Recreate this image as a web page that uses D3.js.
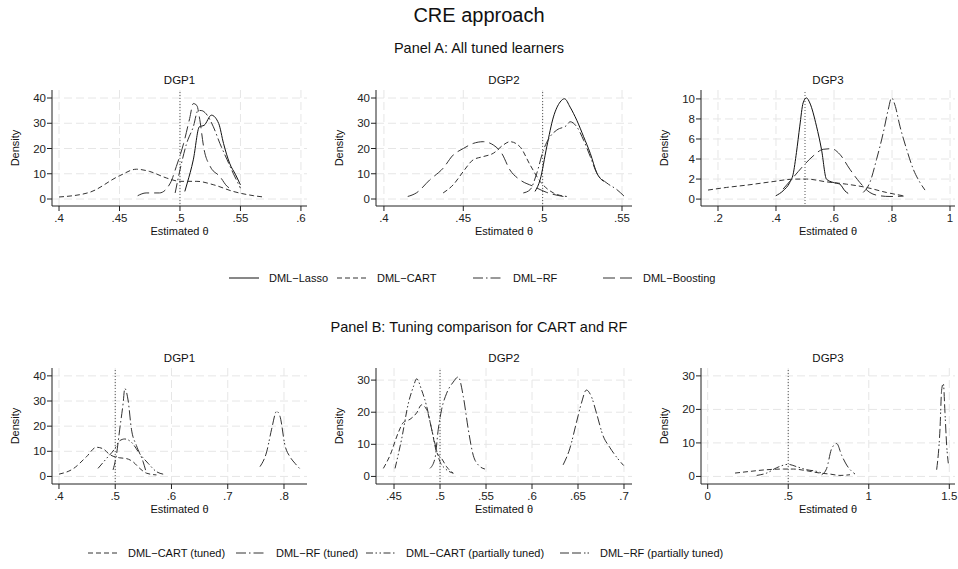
<!DOCTYPE html>
<html lang="en">
<head>
<meta charset="UTF-8">
<title>CRE approach</title>
<script src="https://d3js.org/d3.v7.min.js"></script>
<style>
  body { margin: 0; background: #fff; }
  svg { font-family: "Liberation Sans", Arial, sans-serif; }
</style>
</head>
<body>
<div id="chart"></div>
<script>
// ---- panel A : all tuned learners ----
// DGP1
const a1Lasso = [[.504,3],[.506,6.3],[.511,15.5],[.516,28.6],[.520,29.2],[.526,33.2],[.532,29.9],[.536,22],[.541,14.2],[.546,9.6],[.550,5.6]];
const a1Cart = [[.400,.8],[.425,2.6],[.450,9.2],[.464,11.8],[.475,10.9],[.489,8.3],[.500,7],[.514,7],[.528,5.6],[.544,3],[.561,1.3],[.569,.8]];
const a1Rf = [[.496,2.4],[.500,11.5],[.5055,22],[.511,28.6],[.515,35.1],[.518,35],[.5215,33.8],[.5276,28.6],[.533,22],[.539,15.5],[.544,10.2],[.550,4.3]];
const a1Boost = [[.465,1.3],[.472,2.4],[.483,2.4],[.492,6.3],[.497,12.9],[.503,22],[.508,31.9],[.511,37.8],[.514,37],[.516,32.5],[.520,19.4],[.525,12.9],[.533,8.9],[.539,5],[.544,3.7]];
// DGP2
const a2Lasso = [[.4952,3],[.4984,7.6],[.5026,20.7],[.5068,32.5],[.511,38.4],[.5138,39.7],[.5173,36.4],[.5215,31.2],[.5258,24.7],[.530,18.1],[.5342,10.2],[.5384,7]];
const a2Cart = [[.4373,2.4],[.4436,5.6],[.450,10.9],[.4562,15.5],[.4626,16.8],[.4689,18.1],[.4752,21.4],[.4794,22.7],[.4857,20.7],[.4921,13.5],[.4984,7],[.5068,2.4],[.5152,1]];
const a2Rf = [[.4878,2.4],[.4921,3.7],[.4963,10.2],[.5005,19.4],[.5047,24.7],[.5089,27.3],[.5152,29.2],[.5173,30.6],[.5215,28.6],[.5258,23.3],[.530,16.8],[.5342,10.2],[.5405,6.3],[.5468,3.7],[.5515,1]];
const a2Boost = [[.415,1],[.4204,2.4],[.4289,7.6],[.4373,12.2],[.4436,17.4],[.450,20],[.4562,22],[.4626,22.7],[.4689,21.4],[.4742,18.1],[.4794,11.5],[.4857,7.6],[.4942,5],[.5026,2.6],[.5131,1]];
// DGP3
const a3Lasso = [[.399,.33],[.4245,.83],[.4475,1.66],[.459,2.48],[.4705,4.64],[.482,7.28],[.4935,9.6],[.505,10.1],[.5166,9.6],[.5396,7.28],[.5568,4.97],[.574,1.99],[.5971,1.66],[.6201,1.49],[.6374,.83],[.6489,.56]];
const a3Cart = [[.1655,.9],[.2288,1.16],[.2978,1.39],[.390,1.75],[.459,1.99],[.505,2.0],[.574,1.72],[.643,1.49],[.712,1.16],[.781,.66],[.839,.33]];
const a3Rf = [[.7007,.66],[.7237,1.66],[.7468,3.97],[.7698,6.62],[.787,8.94],[.7986,10.1],[.810,9.4],[.8273,7.28],[.8504,4.97],[.8734,2.98],[.8964,1.66],[.9137,.9]];
const a3Boost = [[.4245,1.0],[.459,2.15],[.4935,3.3],[.528,4.3],[.5626,4.97],[.5914,5.03],[.620,4.47],[.6547,2.98],[.689,1.66],[.7237,.66],[.7583,.33],[.793,.26],[.840,.3]];

// ---- panel B : tuning comparison ----
// DGP1
const b1CartTuned = [[.400,.9],[.4249,3],[.4487,7.8],[.4665,11.6],[.4783,11],[.4902,8.7],[.508,7.4],[.5199,7.1],[.5317,5.8],[.5436,3.2],[.5555,1.3],[.5733,.6]];
const b1RfTuned = [[.4961,2.6],[.502,8.4],[.508,18.8],[.514,29],[.517,35],[.5228,30.4],[.5288,18.8],[.5377,12.3],[.5496,5.8],[.5555,1.3]];
const b1CartPartial = [[.4694,3.2],[.4843,7.1],[.4991,11],[.508,14.2],[.5169,14.9],[.5288,13.6],[.5436,9],[.5585,5.2],[.5733,1.9],[.5852,.9]];
const b1RfPartial = [[.7573,3.9],[.7691,9.7],[.778,18.8],[.7869,25.9],[.7929,23.9],[.8018,12.3],[.8107,7.8],[.8196,5.2],[.8285,3]];
// DGP2
const b2CartTuned = [[.4384,2.5],[.4457,6.6],[.4547,13.7],[.4601,16.8],[.4674,17.8],[.4746,19.8],[.480,22.3],[.4855,20.8],[.4909,14.7],[.4963,7.6],[.5017,5.6],[.5072,3],[.5144,1]];
const b2RfTuned = [[.4891,2.5],[.4945,5.6],[.4981,14.7],[.5017,20.8],[.5072,25.9],[.5144,29.4],[.5198,31],[.5253,24.9],[.5307,14.7],[.5361,6.6],[.5415,3.6],[.5488,2.3]];
const b2CartPartial = [[.4511,2.5],[.4583,11.7],[.4656,22.8],[.471,27.9],[.4746,30.4],[.480,26.9],[.4855,21.8],[.4909,14.7],[.4963,8.1],[.4999,4.6],[.5054,2.5],[.5144,1]];
const b2RfPartial = [[.6338,3.6],[.641,8.6],[.6483,16.8],[.6537,22.8],[.6591,26.9],[.6645,24.9],[.670,19.8],[.6772,12.7],[.6844,9.1],[.6917,6.1],[.6996,3.4]];
// DGP3
const b3CartTuned = [[.1697,1],[.2628,1.5],[.3662,2],[.4697,2.2],[.5318,2.2],[.6145,1.7],[.6973,1],[.7594,.7],[.8214,.3],[.8835,.5]];
const b3RfTuned = [[.7077,.5],[.7387,2.4],[.7697,8.3],[.8007,9.8],[.8318,6.3],[.8628,3.4],[.9146,.7]];
const b3CartPartial = [[.3042,.3],[.3662,1],[.4283,2.6],[.5007,3.6],[.5525,2.9],[.6145,2],[.6766,1.5],[.7077,1]];
const b3RfPartial = [[1.4215,2],[1.4422,14.1],[1.4525,25.8],[1.4629,27.8],[1.4732,19],[1.4836,9.3],[1.4939,3.9]];

// tick values
const ticksA1x = [.4, .45, .5, .55, .6], ticksA1y = [0, 10, 20, 30, 40];
const ticksA2x = [.4, .45, .5, .55], ticksA2y = [0, 10, 20, 30, 40];
const ticksA3x = [.2, .4, .6, .8, 1], ticksA3y = [0, 2, 4, 6, 8, 10];
const ticksB1x = [.4, .5, .6, .7, .8], ticksB1y = [0, 10, 20, 30, 40];
const ticksB2x = [.45, .5, .55, .6, .65, .7], ticksB2y = [0, 10, 20, 30];
const ticksB3x = [0, .5, 1, 1.5], ticksB3y = [0, 10, 20, 30];

const legendA = ['DML\u2212Lasso', 'DML\u2212CART', 'DML\u2212RF', 'DML\u2212Boosting'];
const legendB = ['DML\u2212CART (tuned)', 'DML\u2212RF (tuned)', 'DML\u2212CART (partially tuned)', 'DML\u2212RF  (partially tuned)'];

// line patterns
const dashA = [null, '5,3', '10,3,1.5,3', '12,5'];
const dashB = ['5,3', '10,3,1.5,3', '7,2.5,1.5,2.5,1.5,2.5', '9,3,9,3,1.5,2,1.5,3'];

const W = 958, H = 569;
const svg = d3.select('#chart').append('svg')
    .attr('width', W)
    .attr('height', H);

svg.append('rect').attr('width', W).attr('height', H).attr('fill', '#fff');

// titles
svg.append('text').attr('x', 479).attr('y', 22).attr('text-anchor', 'middle')
    .attr('font-size', '20px').attr('fill', '#111').text('CRE approach');
svg.append('text').attr('x', 479).attr('y', 53).attr('text-anchor', 'middle')
    .attr('font-size', '14.5px').attr('fill', '#111').text('Panel A: All tuned learners');
svg.append('text').attr('x', 479).attr('y', 332).attr('text-anchor', 'middle')
    .attr('font-size', '14.5px').attr('fill', '#111').text('Panel B: Tuning comparison for CART and RF');

const fmt = d => String(d).replace(/^0\./, '.');
const cols = [[52, 307], [376, 632], [701, 955]];

function drawPanel(p) {
    const g = svg.append('g');
    const [left, right] = cols[p.col];
    const top = p.top, bottom = p.top + 116;
    const x = d3.scaleLinear().domain(p.xDomain).range([left, right]);
    const y = d3.scaleLinear().domain(p.yDomain).range([bottom, top]);

    // grid
    g.selectAll('.hg').data(p.yTicks).enter().append('line')
        .attr('x1', left).attr('x2', right)
        .attr('y1', d => y(d)).attr('y2', d => y(d))
        .attr('stroke', '#e6e6e6').attr('stroke-dasharray', '8,4');
    g.selectAll('.vg').data(p.xTicks).enter().append('line')
        .attr('x1', d => x(d)).attr('x2', d => x(d))
        .attr('y1', top).attr('y2', bottom)
        .attr('stroke', '#e6e6e6').attr('stroke-dasharray', '8,4');

    // reference line at true theta
    g.append('line')
        .attr('x1', x(0.5)).attr('x2', x(0.5))
        .attr('y1', top + 2).attr('y2', bottom)
        .attr('stroke', '#555').attr('stroke-dasharray', '1,2');

    // curves
    const line = d3.line().x(d => x(d[0])).y(d => y(d[1])).curve(d3.curveMonotoneX);
    p.series.forEach((s, i) => {
        g.append('path')
            .attr('d', line(s))
            .attr('fill', 'none')
            .attr('stroke', p.solid && i === 0 ? '#111' : '#333')
            .attr('stroke-width', 1)
            .attr('stroke-dasharray', p.dash[i]);
    });

    // axes
    g.append('line').attr('x1', left).attr('x2', left).attr('y1', top).attr('y2', bottom)
        .attr('stroke', '#222');
    g.append('line').attr('x1', left).attr('x2', right).attr('y1', bottom).attr('y2', bottom)
        .attr('stroke', '#222');
    g.selectAll('.yt').data(p.yTicks).enter().append('line')
        .attr('x1', left - 5).attr('x2', left)
        .attr('y1', d => y(d)).attr('y2', d => y(d)).attr('stroke', '#222');
    g.selectAll('.xt').data(p.xTicks).enter().append('line')
        .attr('x1', d => x(d)).attr('x2', d => x(d))
        .attr('y1', bottom).attr('y2', bottom + 5).attr('stroke', '#222');
    g.selectAll('.yl').data(p.yTicks).enter().append('text')
        .attr('x', left - 6).attr('y', d => y(d) + 4)
        .attr('text-anchor', 'end').attr('font-size', '11.5px').attr('fill', '#222')
        .text(d => d);
    g.selectAll('.xl').data(p.xTicks).enter().append('text')
        .attr('x', d => x(d)).attr('y', bottom + 16)
        .attr('text-anchor', 'middle').attr('font-size', '11.5px').attr('fill', '#222')
        .text(fmt);

    // labels
    g.append('text').attr('x', (left + right) / 2).attr('y', top - 6)
        .attr('text-anchor', 'middle').attr('font-size', '11.5px').attr('fill', '#111')
        .text(p.title);
    g.append('text').attr('x', (left + right) / 2).attr('y', bottom + 29)
        .attr('text-anchor', 'middle').attr('font-size', '11px').attr('fill', '#111')
        .text('Estimated \u03b8');
    g.append('text')
        .attr('transform', `translate(${left - 33},${(top + bottom) / 2}) rotate(-90)`)
        .attr('text-anchor', 'middle').attr('font-size', '11px').attr('fill', '#111')
        .text('Density');
}

drawPanel({ col: 0, top: 90, title: 'DGP1', xDomain: [0.3942, 0.605], yDomain: [-2.77, 43.17],
    xTicks: ticksA1x, yTicks: ticksA1y, series: [a1Lasso, a1Cart, a1Rf, a1Boost], dash: dashA, solid: true });
drawPanel({ col: 1, top: 90, title: 'DGP2', xDomain: [0.395, 0.5563], yDomain: [-2.77, 43.17],
    xTicks: ticksA2x, yTicks: ticksA2y, series: [a2Lasso, a2Cart, a2Rf, a2Boost], dash: dashA, solid: true });
drawPanel({ col: 2, top: 90, title: 'DGP3', xDomain: [0.1414, 1.0172], yDomain: [-0.69, 10.89],
    xTicks: ticksA3x, yTicks: ticksA3y, series: [a3Lasso, a3Cart, a3Rf, a3Boost], dash: dashA, solid: true });
drawPanel({ col: 0, top: 368, title: 'DGP1', xDomain: [0.3876, 0.8409], yDomain: [-3.01, 43.13],
    xTicks: ticksB1x, yTicks: ticksB1y, series: [b1CartTuned, b1RfTuned, b1CartPartial, b1RfPartial], dash: dashB });
drawPanel({ col: 1, top: 368, title: 'DGP2', xDomain: [0.4304, 0.7087], yDomain: [-2.36, 33.77],
    xTicks: ticksB2x, yTicks: ticksB2y, series: [b2CartTuned, b2RfTuned, b2CartPartial, b2RfPartial], dash: dashB });
drawPanel({ col: 2, top: 368, title: 'DGP3', xDomain: [-0.0416, 1.5354], yDomain: [-2.26, 32.35],
    xTicks: ticksB3x, yTicks: ticksB3y, series: [b3CartTuned, b3RfTuned, b3CartPartial, b3RfPartial], dash: dashB });

// legends
function drawLegend(labels, dashes, keyX, yPos, solidFirst) {
    labels.forEach((lab, i) => {
        svg.append('line')
            .attr('x1', keyX[i]).attr('x2', keyX[i] + 30)
            .attr('y1', yPos).attr('y2', yPos)
            .attr('stroke', solidFirst && i === 0 ? '#111' : '#333')
            .attr('stroke-dasharray', dashes[i]);
        svg.append('text')
            .attr('x', keyX[i] + 40).attr('y', yPos + 4)
            .attr('font-size', '11px').attr('fill', '#111')
            .text(lab);
    });
}
drawLegend(legendA, dashA, [229, 337, 473, 603], 278, true);
drawLegend(legendB, dashB, [88, 236, 366, 560], 553, false);
</script>
</body>
</html>
